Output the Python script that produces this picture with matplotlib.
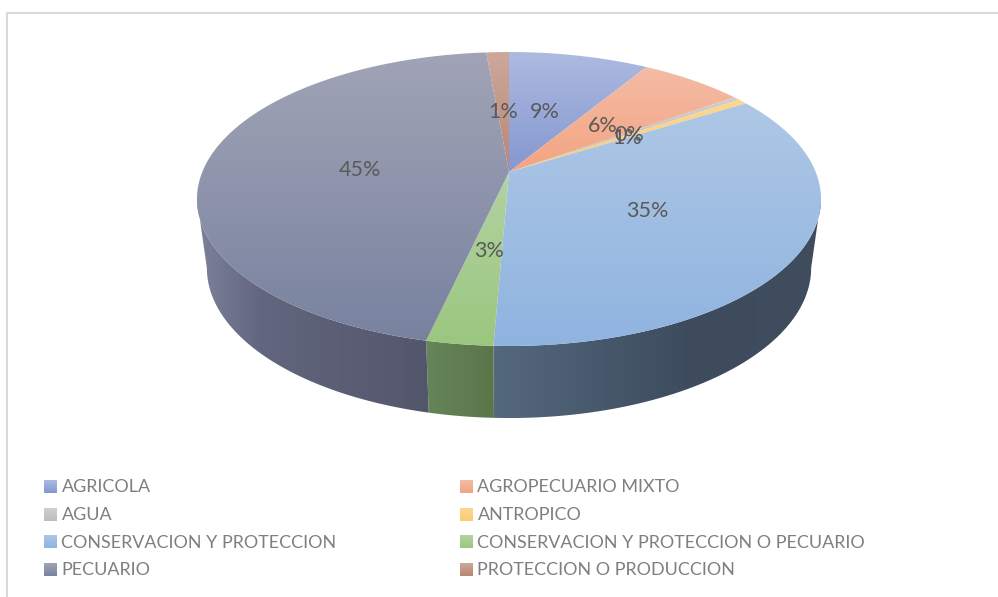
#!/usr/bin/env python
"""Excel style 3D pie, land use shares, drawn in pixel coords on one full-figure axes."""
import numpy as np
import matplotlib
matplotlib.use("Agg")
import matplotlib.pyplot as plt
from matplotlib.colors import to_rgb, LinearSegmentedColormap
from matplotlib.patches import Polygon

categories = ["AGRICOLA", "AGROPECUARIO MIXTO", "AGUA", "ANTROPICO",
              "CONSERVACION Y PROTECCION", "CONSERVACION Y PROTECCION O PECUARIO",
              "PECUARIO", "PROTECCION O PRODUCCION"]
shares = [8.67, 6.45, 0.40, 0.58, 34.56, 2.90, 45.04, 1.40]
pct_labels = ["9%", "6%", "0%", "1%", "35%", "3%", "45%", "1%"]

# gradient ends of the top face, upper then lower
top_light = ["#adbae0", "#f3bca5", "#cfcfcf", "#fdd78f", "#aec7e5", "#b2d3a2", "#a1a4b6", "#cca89b"]
top_dark = ["#8497d0", "#f4a482", "#bdbdbd", "#fbcd72", "#8fb4e0", "#9bc67f", "#78829f", "#ba8675"]
# wall colours as (angle in degrees clockwise from 12 o'clock, colour)
wall_stops = {4: [(100, "#3f4d5e"), (150, "#3d4b5d"), (183, "#55697f")],
              5: [(182, "#5b7549"), (193, "#66855a")],
              6: [(192, "#53566b"), (225, "#62667e"), (260, "#7d829b")]}
label_xy = [(545, 112), (603, 126), (629, 135), (627, 138), (647, 211), (489, 251), (360, 170), (503, 112)]

CX = 509.0
K = 0.1837
TOP = dict(a=306.7, b=142.0, y0=172.0)
BOT = dict(a=297.0, b=145.0, y0=240.4)
VIS_LO, VIS_HI = 100.6, 259.4   # rim angles where the wall shows


def rim(theta, plane):
    t = np.radians(theta)
    u, v = np.sin(t), -np.cos(t)
    w = 1 - K * v
    return CX + plane["a"] * u / w, plane["y0"] + plane["b"] * v / w


edges = np.concatenate([[0], np.cumsum(shares)]) / np.sum(shares) * 360

plt.rcParams["font.family"] = ["Lato", "DejaVu Sans"]
fig = plt.figure(figsize=(9.98, 5.97), dpi=100)
ax = fig.add_axes([0, 0, 1, 1])
ax.set_xlim(0, 998)
ax.set_ylim(597, 0)
ax.axis("off")

# chart frame, only top and left show
ax.plot([7, 7, 998], [597, 12.5, 12.5], color="#d9d9d9", lw=1.5, solid_joinstyle="miter")

# side wall, horizontal gradient clipped to the strip between both rims
for i, stops in wall_stops.items():
    lo, hi = max(edges[i], VIS_LO), min(edges[i + 1], VIS_HI)
    th = np.linspace(lo, hi, 200)
    xt, yt = rim(th, TOP)
    xb, yb = rim(th, BOT)
    pts = np.column_stack([np.r_[xt, xb[::-1]], np.r_[yt, yb[::-1]]])
    poly = Polygon(pts, closed=True, facecolor="none", edgecolor="none")
    ax.add_patch(poly)
    sa, sc = zip(*stops)
    sx = rim(np.array(sa, float), TOP)[0]
    order = np.argsort(sx)
    rgb = np.array([to_rgb(c) for c in sc])[order]
    x0, x1 = pts[:, 0].min(), pts[:, 0].max()
    xg = np.linspace(x0, x1, 400)
    strip = np.stack([np.interp(xg, sx[order], rgb[:, c]) for c in range(3)], axis=-1)[None, :, :]
    im = ax.imshow(strip, aspect="auto", zorder=2, extent=[x0, x1, pts[:, 1].max(), pts[:, 1].min()])
    im.set_clip_path(poly)
ax.set_xlim(0, 998)
ax.set_ylim(597, 0)

# top face, one vertical gradient per slice
for i in range(len(shares)):
    th = np.linspace(edges[i], edges[i + 1], max(int(edges[i + 1] - edges[i]) * 2, 4))
    xs, ys = rim(th, TOP)
    pts = np.column_stack([np.append(xs, CX), np.append(ys, TOP["y0"])])
    poly = Polygon(pts, closed=True, facecolor="none", edgecolor="none")
    ax.add_patch(poly)
    cmap = LinearSegmentedColormap.from_list("s%d" % i, [top_light[i], top_dark[i]])
    grad = np.linspace(0, 1, 256).reshape(-1, 1)
    im = ax.imshow(grad, cmap=cmap, aspect="auto", zorder=3,
                   extent=[pts[:, 0].min(), pts[:, 0].max(), pts[:, 1].max(), pts[:, 1].min()])
    im.set_clip_path(poly)
ax.set_xlim(0, 998)
ax.set_ylim(597, 0)

for txt, (x, y) in zip(pct_labels, label_xy):
    ax.text(x, y, txt, ha="center", va="center", fontsize=15.5, color="#595959", zorder=5)

# legend, two columns
col_x = [44, 460]
row_y = [486.3, 514.5, 542, 569.6]
grad = np.linspace(0, 1, 32).reshape(-1, 1)
for i, name in enumerate(categories):
    x = col_x[i % 2]
    y = row_y[i // 2]
    cmap = LinearSegmentedColormap.from_list("l%d" % i, [top_light[i], top_dark[i]])
    ax.imshow(grad, cmap=cmap, aspect="auto", zorder=3, extent=[x, x + 13, y + 6.5, y - 6.5])
    ax.text(x + 17.5, y + 0.5, name, ha="left", va="center", fontsize=12.9, color="#7f7f7f", zorder=5)
ax.set_xlim(0, 998)
ax.set_ylim(597, 0)

fig.savefig("out.png", dpi=100)
